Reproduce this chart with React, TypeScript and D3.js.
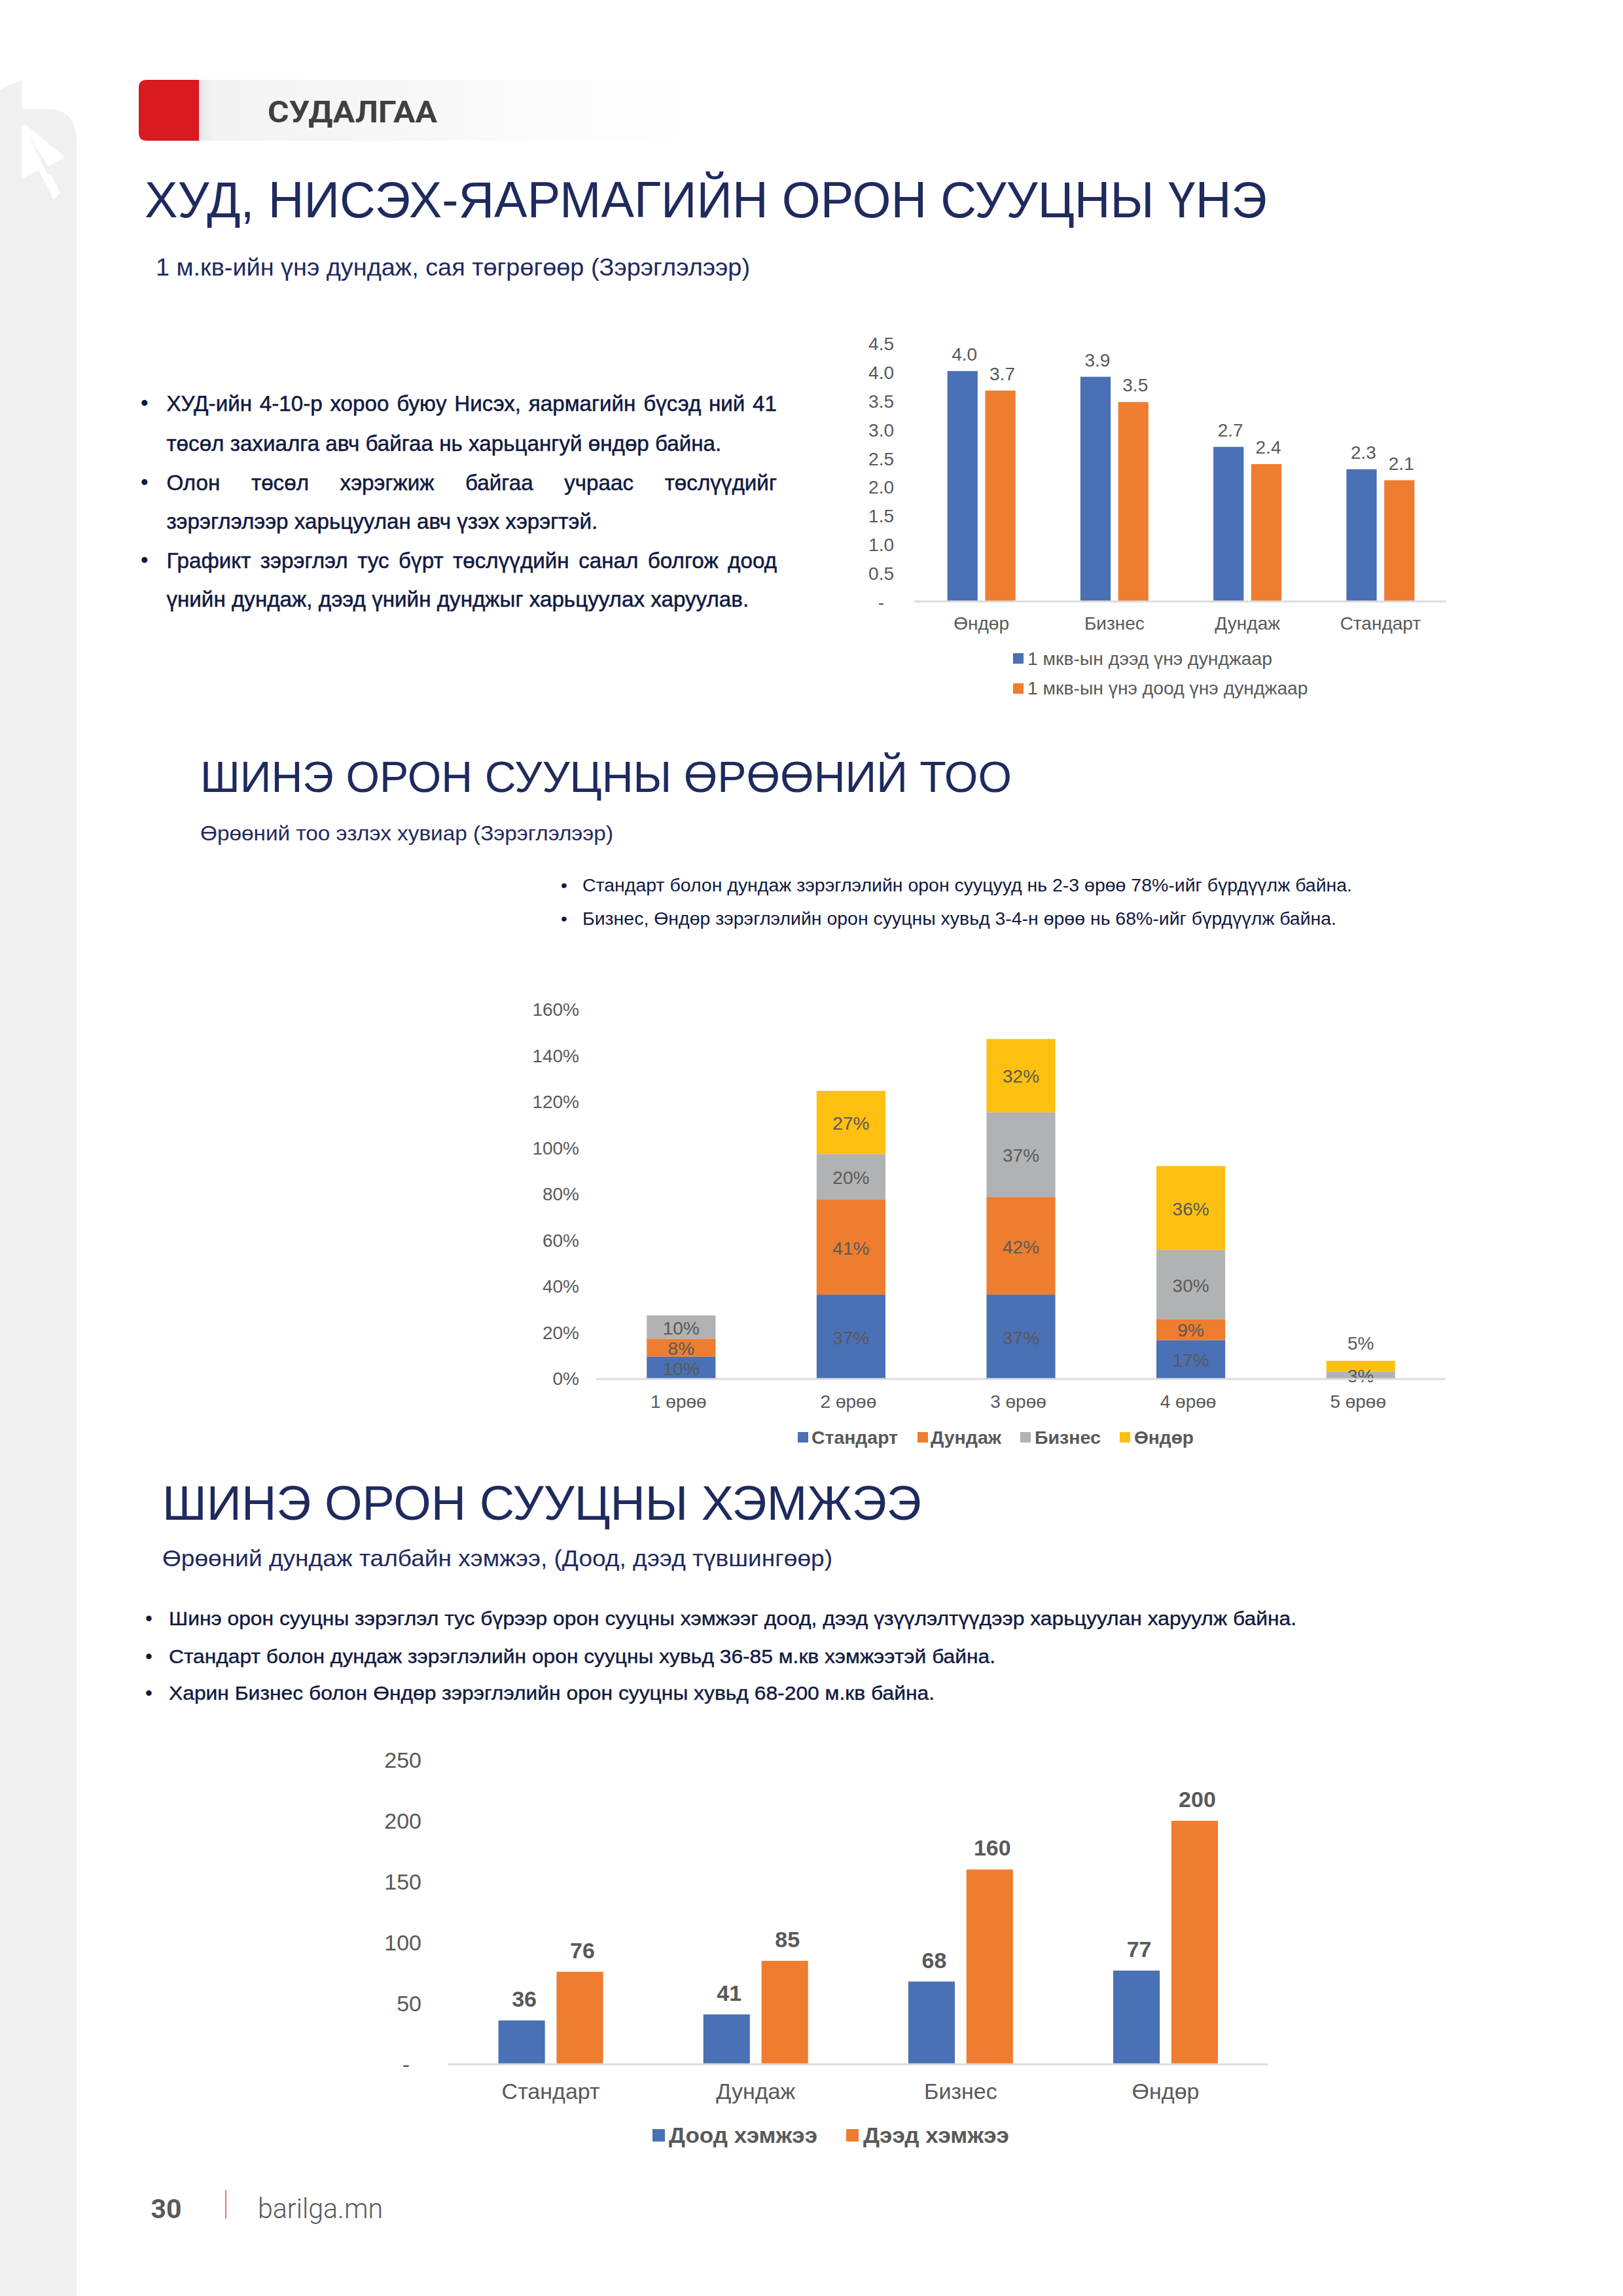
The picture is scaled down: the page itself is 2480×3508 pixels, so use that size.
import React from "react";
import * as d3 from "d3";

const BLUE = "#4a70b5";
const ORANGE = "#ee7d2f";
const GRAY = "#b1b2b3";
const YELLOW = "#fdc010";
const LABEL = "#595959";
const AXIS = "#dcdcdc";
const NAVY = "#1f2a5e";
const INK = "#10193f";
const SANS = "'Liberation Sans', Arial, sans-serif";

// Chart 1
const priceCategories = ["Өндөр", "Бизнес", "Дундаж", "Стандарт"];
const priceHigh = [4.0, 3.9, 2.68, 2.29];
const priceLow = [3.66, 3.46, 2.38, 2.1];
const priceTicks = [0, 0.5, 1, 1.5, 2, 2.5, 3, 3.5, 4, 4.5];
const priceSeriesNames = ["1 мкв-ын дээд үнэ дунджаар", "1 мкв-ын үнэ доод үнэ дунджаар"];

// Chart 2
const roomCategories = ["1 өрөө", "2 өрөө", "3 өрөө", "4 өрөө", "5 өрөө"];
const roomSeriesNames = ["Стандарт", "Дундаж", "Бизнес", "Өндөр"];
const roomStandard = [9.7, 36.6, 36.6, 16.9, 0];
const roomMedium = [7.8, 41.2, 42.3, 9.1, 0];
const roomBusiness = [10.1, 19.8, 36.8, 30, 3.3];
const roomHigh = [0, 27.4, 31.8, 36.4, 4.6];
const roomTicks = [0, 20, 40, 60, 80, 100, 120, 140, 160];

// Chart 3
const sizeCategories = ["Стандарт", "Дундаж", "Бизнес", "Өндөр"];
const sizeLow = [36, 41, 68, 77];
const sizeHigh = [76, 85, 160, 200];
const sizeTicks = [0, 50, 100, 150, 200, 250];
const sizeSeriesNames = ["Доод хэмжээ", "Дээд хэмжээ"];

// Text
const introLines = [
  "ХУД-ийн 4-10-р хороо буюу Нисэх, яармагийн бүсэд ний 41",
  "төсөл захиалга авч байгаа нь харьцангуй өндөр байна.",
  "Олон төсөл хэрэгжиж байгаа учраас төслүүдийг",
  "зэрэглэлээр харьцуулан авч үзэх хэрэгтэй.",
  "Графикт зэрэглэл тус бүрт төслүүдийн санал болгож доод",
  "үнийн дундаж, дээд үнийн дунджыг харьцуулах харуулав.",
];
const roomNotes = [
  "Стандарт болон дундаж зэрэглэлийн орон сууцууд нь 2-3 өрөө 78%-ийг бүрдүүлж байна.",
  "Бизнес, Өндөр зэрэглэлийн орон сууцны хувьд 3-4-н өрөө нь 68%-ийг бүрдүүлж байна.",
];
const sizeNotes = [
  "Шинэ орон сууцны зэрэглэл тус бүрээр орон сууцны хэмжээг доод, дээд үзүүлэлтүүдээр харьцуулан харуулж байна.",
  "Стандарт болон дундаж зэрэглэлийн орон сууцны хувьд 36-85 м.кв хэмжээтэй байна.",
  "Харин Бизнес болон Өндөр зэрэглэлийн орон сууцны хувьд 68-200 м.кв байна.",
];

type TP = {
  x: number; y: number; s: number; w?: number; c?: string; b?: boolean; a?: "start" | "middle" | "end";
  f?: string; wt?: number; stroke?: number; ws?: number; children: React.ReactNode;
};
function T({ x, y, s, w, c = LABEL, b, a = "start", f = SANS, wt, stroke, ws, children }: TP) {
  return (
    <text
      x={x} y={y} fontSize={s} fontFamily={f} fill={c} textAnchor={a}
      fontWeight={wt ?? (b ? 700 : 400)}
      textLength={w} lengthAdjust={w ? "spacingAndGlyphs" : undefined}
      stroke={stroke ? c : undefined} strokeWidth={stroke}
      style={ws ? { wordSpacing: ws } : undefined}
    >
      {children}
    </text>
  );
}

function measure(text: string, size: number) {
  const ctx = document.createElement("canvas").getContext("2d")!;
  ctx.font = `${size}px ${SANS}`;
  return ctx.measureText(text).width;
}

function Justified({ x, y, s, right, text }: { x: number; y: number; s: number; right: number; text: string }) {
  const gaps = text.split(" ").length - 1;
  const ws = (right - x - measure(text, s)) / gaps;
  return <T x={x} y={y} s={s} c={INK} stroke={0.5} ws={ws}>{text}</T>;
}

function PriceChart() {
  const x = d3.scaleBand<string>().domain(priceCategories).range([1397, 2210]);
  const inner = d3.scaleBand<number>().domain([0, 1]).range([-52, 52]).paddingInner(0.2);
  const y = d3.scaleLinear().domain([0, 4.5]).range([918, 523]);
  const fmt = d3.format(".1f");
  const series = [priceHigh, priceLow];
  const colors = [BLUE, ORANGE];
  return (
    <g>
      {priceTicks.map((t) => (
        <T key={t} x={t === 0 ? 1351 : 1366} y={y(t) + 12} s={28} a="end">{t === 0 ? "-" : fmt(t)}</T>
      ))}
      {priceCategories.map((cat, i) => {
        const cx = x(cat)! + x.bandwidth() / 2 + 1;
        return (
          <g key={cat}>
            {series.map((vals, k) => (
              <g key={k}>
                <rect x={cx + inner(k)!} y={y(vals[i])} width={inner.bandwidth()} height={y(0) - y(vals[i])} fill={colors[k]} />
                <T x={cx + inner(k)! + inner.bandwidth() / 2 + 3} y={y(vals[i]) - 16} s={28} a="middle">{fmt(vals[i])}</T>
              </g>
            ))}
            <T x={cx} y={962} s={28} a="middle">{cat}</T>
          </g>
        );
      })}
      <line x1={1397} x2={2210} y1={y(0) + 1} y2={y(0) + 1} stroke={AXIS} strokeWidth={3} />
      {priceSeriesNames.map((name, k) => (
        <g key={name}>
          <rect x={1548} y={998 + k * 46} width={16} height={16} fill={colors[k]} />
          <T x={1570} y={1015.6 + k * 45.4} s={28} w={[374, 428.6][k]}>{name}</T>
        </g>
      ))}
    </g>
  );
}

function RoomChart() {
  const x = d3.scaleBand<string>().domain(roomCategories).range([911, 2209]).paddingInner(0.595).paddingOuter(0.2975);
  const y = d3.scaleLinear().domain([0, 160]).range([2107, 1543.4]);
  const colors = [BLUE, ORANGE, GRAY, YELLOW];
  const rows = roomCategories.map((c, i) => ({
    c, s0: roomStandard[i], s1: roomMedium[i], s2: roomBusiness[i], s3: roomHigh[i],
  }));
  const stacked = d3.stack<any>().keys(["s0", "s1", "s2", "s3"])(rows);
  const legendRects = [1219, 1402, 1559, 1711];
  const legendTexts = [1240, 1422, 1581, 1733];
  const legendWidths = [132, 108, 101, 91];
  return (
    <g>
      {roomTicks.map((t) => (
        <T key={t} x={885} y={y(t) + 9} s={28} a="end">{t}%</T>
      ))}
      {stacked.map((layer, k) =>
        layer.map((d, i) => {
          const v = d[1] - d[0];
          if (v <= 0) return null;
          const bx = x(roomCategories[i])!;
          return <rect key={`${k}-${i}`} x={bx} y={y(d[1])} width={x.bandwidth()} height={y(d[0]) - y(d[1])} fill={colors[k]} />;
        })
      )}
      {stacked.map((layer, k) =>
        layer.map((d, i) => {
          const v = d[1] - d[0];
          if (v <= 0) return null;
          const cx = x(roomCategories[i])! + x.bandwidth() / 2;
          const outside = k === 3 && v < 6;
          const ly = outside ? y(d[1]) - 17 : y((d[0] + d[1]) / 2) + 11;
          return <T key={`${k}-${i}`} x={cx} y={ly} s={28} a="middle">{Math.round(v)}%</T>;
        })
      )}
      <line x1={911} x2={2209} y1={y(0)} y2={y(0)} stroke={AXIS} strokeWidth={3} />
      {roomCategories.map((c) => (
        <T key={c} x={x(c)! + x.bandwidth() / 2 - 4} y={2151} s={28} a="middle">{c}</T>
      ))}
      {roomSeriesNames.map((n, k) => (
        <g key={n}>
          <rect x={legendRects[k]} y={2188} width={16} height={16} fill={colors[k]} />
          <T x={legendTexts[k]} y={2205.7} s={28} b w={legendWidths[k]}>{n}</T>
        </g>
      ))}
    </g>
  );
}

function SizeChart() {
  const x = d3.scaleBand<string>().domain(sizeCategories).range([685, 1937.6]);
  const inner = d3.scaleBand<number>().domain([0, 1]).range([-80, 80]).paddingInner(0.2);
  const y = d3.scaleLinear().domain([0, 250]).range([3154, 2689]);
  const series = [sizeLow, sizeHigh];
  const colors = [BLUE, ORANGE];
  const legendRects = [997, 1293];
  const legendTexts = [1022, 1319];
  const legendWidths = [227, 223];
  return (
    <g>
      {sizeTicks.map((t) => (
        <T key={t} x={t === 0 ? 626 : 644} y={y(t) + 12} s={34} a="end">{t === 0 ? "-" : t}</T>
      ))}
      {sizeCategories.map((cat, i) => {
        const cx = x(cat)! + x.bandwidth() / 2;
        return (
          <g key={cat}>
            {series.map((vals, k) => (
              <g key={k}>
                <rect x={cx + inner(k)!} y={y(vals[i])} width={inner.bandwidth()} height={y(0) - y(vals[i])} fill={colors[k]} />
                <T x={cx + inner(k)! + inner.bandwidth() / 2 + 4} y={y(vals[i]) - 21} s={34} a="middle" b>{vals[i]}</T>
              </g>
            ))}
            <T x={cx} y={3207} s={34} a="middle">{cat}</T>
          </g>
        );
      })}
      <line x1={685} x2={1937.6} y1={y(0)} y2={y(0)} stroke={AXIS} strokeWidth={3} />
      {sizeSeriesNames.map((n, k) => (
        <g key={n}>
          <rect x={legendRects[k]} y={3253} width={19} height={19} fill={colors[k]} />
          <T x={legendTexts[k]} y={3274} s={34} b w={legendWidths[k]}>{n}</T>
        </g>
      ))}
    </g>
  );
}

export default function App() {
  return (
    <svg width={2480} height={3508} viewBox="0 0 2480 3508" style={{ position: "absolute", left: 0, top: 0, background: "#fff" }}>
      <defs>
        <linearGradient id="hdr" x1="0" x2="1" y1="0" y2="0">
          <stop offset="0" stopColor="#e6e6e6" />
          <stop offset="0.03" stopColor="#f3f3f3" />
          <stop offset="0.5" stopColor="#f8f8f8" />
          <stop offset="1" stopColor="#ffffff" />
        </linearGradient>
      </defs>

      {/* sidebar */}
      <path d="M0,138 Q10,130 33,123 L33,160 Q33,167 40,167 L78,167 Q117,170 117,215 L117,3508 L0,3508 Z" fill="#f0f0f0" />
      <path d="M33,195 Q33,190 40,191 L96,237 Q98,241 95,243 L74,254 L45,210 L72,265 L79,268 L92,295 L82,305 L59,260 L37,271 Q33,271 33,267 Z" fill="#fff" />

      {/* header */}
      <rect x={304} y={122} width={745} height={93} fill="url(#hdr)" />
      <path d="M304,122 L224,122 Q212,122 212,134 L212,203 Q212,215 224,215 L304,215 Z" fill="#d91a21" />
      <T x={409} y={186.7} s={47} w={259} b c="#404040" f="Roboto, 'Liberation Sans', sans-serif">СУДАЛГАА</T>

      {/* section 1 */}
      <T x={221} y={331.7} s={77} w={1715} c={NAVY}>ХУД, НИСЭХ-ЯАРМАГИЙН ОРОН СУУЦНЫ ҮНЭ</T>
      <T x={238} y={421} s={36} w={908} c={NAVY}>1 м.кв-ийн үнэ дундаж, сая төгрөгөөр (Зэрэглэлээр)</T>
      {[628, 749, 868].map((y) => <T key={y} x={215} y={y - 1} s={33} c={INK}>•</T>)}
      <Justified x={254.4} y={628} s={33.2} right={1187} text={introLines[0]} />
      <T x={254.4} y={689} s={33.2} c={INK} stroke={0.5}>{introLines[1]}</T>
      <Justified x={254.4} y={749} s={33.2} right={1187} text={introLines[2]} />
      <T x={254.4} y={808} s={33.2} c={INK} stroke={0.5}>{introLines[3]}</T>
      <Justified x={254.4} y={868} s={33.2} right={1187} text={introLines[4]} />
      <T x={254.4} y={927} s={33.2} c={INK} stroke={0.5}>{introLines[5]}</T>
      <PriceChart />

      {/* section 2 */}
      <T x={306} y={1210} s={66} w={1240} c={NAVY}>ШИНЭ ОРОН СУУЦНЫ ӨРӨӨНИЙ ТОО</T>
      <T x={306} y={1284} s={32} w={631} c={NAVY}>Өрөөний тоо эзлэх хувиар (Зэрэглэлээр)</T>
      {roomNotes.map((n, i) => (
        <g key={n}>
          <T x={857} y={1361.7 + i * 50.8} s={28} c={INK}>•</T>
          <T x={890} y={1361.7 + i * 50.8} s={27} c={INK} w={i === 0 ? 1176 : 1152}>{n}</T>
        </g>
      ))}
      <RoomChart />

      {/* section 3 */}
      <T x={248} y={2322} s={74} w={1160} c={NAVY}>ШИНЭ ОРОН СУУЦНЫ ХЭМЖЭЭ</T>
      <T x={248} y={2393} s={35} w={1024} c={NAVY}>Өрөөний дундаж талбайн хэмжээ, (Доод, дээд түвшингөөр)</T>
      {sizeNotes.map((n, i) => (
        <g key={n}>
          <T x={222} y={[2483, 2541, 2597][i]} s={31} c={INK}>•</T>
          <T x={258} y={[2483, 2541, 2597][i]} s={30} c={INK} stroke={0.4} w={[1723, 1263, 1170][i]}>{n}</T>
        </g>
      ))}
      <SizeChart />

      {/* footer */}
      <T x={230.6} y={3389} s={41} b c="#58595b" f="Roboto, 'Liberation Sans', sans-serif">30</T>
      <line x1={345} x2={345} y1={3346} y2={3390} stroke="#e5454d" strokeWidth={1.5} />
      <T x={394} y={3389} s={42} w={191} wt={300} c="#58595b" f="Roboto, 'Liberation Sans', sans-serif">barilga.mn</T>
    </svg>
  );
}
